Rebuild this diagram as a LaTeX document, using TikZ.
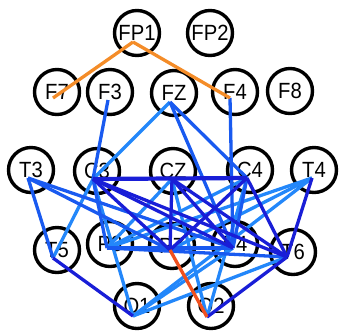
\documentclass[tikz,border=0pt]{standalone}
\usepackage{fontspec}
\setmainfont{Liberation Sans}
\definecolor{eorange}{RGB}{244,140,40}
\definecolor{ered}{RGB}{240,80,30}
\definecolor{edark}{RGB}{25,30,215}
\definecolor{emid}{RGB}{25,90,240}
\definecolor{elight}{RGB}{35,135,250}
\tikzset{
  elec/.style={circle,draw=black,line width=3.4pt,minimum size=45pt,inner sep=0pt,
    font=\fontsize{22}{22}\selectfont},
  edge/.style={line width=3.3pt},
  Ld/.style={edge,draw=edark},
  Lm/.style={edge,draw=emid},
  Ll/.style={edge,draw=elight},
  Lo/.style={edge,draw=eorange},
  Lr/.style={edge,draw=ered},
  thick edge/.style={line width=4.2pt}
}
% \el{name}{cx}{cy}{ex}{ey}{label}
\newcommand\el[6]{%
  \node[elec] (c#1) at (#2,#3) {\scalebox{0.92}[1]{#6}};
  \coordinate (#1) at (#4,#5);}
\begin{document}
\begin{tikzpicture}[x=1pt,y=-1pt]
\useasboundingbox[fill=white] (0,0) rectangle (339,333);
\el{FP1}{137}{33}{133}{42}{FP1}
\el{FP2}{210}{33}{206}{41}{FP2}
\el{F7}{57}{92}{53}{98}{F7}
\el{F3}{110}{92}{108}{100}{F3}
\el{FZ}{174}{93}{170}{102}{FZ}
\el{F4}{235}{92}{230}{98}{F4}
\el{F8}{290}{91}{286}{99}{F8}
\el{T3}{31}{170}{28}{178}{T3}
\el{C3}{97}{171}{93}{179}{C3}
\el{CZ}{173}{171}{172}{179}{CZ}
\el{C4}{250}{170}{247}{178}{C4}
\el{T4}{314}{170}{312}{178}{T4}
\el{T5}{57}{250}{53}{258}{T5}
\el{P3}{110}{244}{107}{248}{P3}
\el{PZ}{172}{246}{170}{250}{PZ}
\el{P4}{235}{244}{233}{248}{P4}
\el{T6}{293}{252}{287}{257}{T6}
\el{O1}{137}{306}{133}{316}{O1}
\el{O2}{211}{306}{207}{317}{O2}
% light edges
\draw[Ll] (FZ) -- (C3);
\draw[Ll] (C3) -- (T5);
\draw[Ll] (C3) -- (O1);
\draw[Ll] (CZ) -- (P3);
\draw[Ll] (C4) -- (P3);
\draw[Ll] (T4) -- (P3);
\draw[Ll] (T4) -- (PZ);
\draw[Ll] (O1) -- (P4);
\draw[Ll] (O1) -- (T6);
\draw[Ll] (O1) -- (T4);
\draw[Ll] (O2) -- (CZ);
\draw[Ll] (O2) -- (C4);
% mid edges
\draw[Lm] (F3) -- (C3);
\draw[Lm] (FZ) -- (C4);
\draw[Lm] (FZ) -- (P4);
\draw[Lm] (F4) -- (P4);
\draw[Lm] (T3) -- (T5);
\draw[Lm] (T3) -- (PZ);
\draw[Lm] (T3) -- (P4);
\draw[Lm] (C3) -- (P3);
\draw[Lm] (C4) -- (P4);
\draw[Lm] (P3) -- (T6);
\draw[Lm,thick edge] (P3) -- (P4);
% dark edges
\draw[Ld,thick edge] (C3) -- (C4);
\draw[Ld] (C3) -- (PZ);
\draw[Ld] (C3) -- (P4);
\draw[Ld] (C3) -- (T6);
\draw[Ld] (CZ) -- (PZ);
\draw[Ld] (CZ) -- (P4);
\draw[Ld] (CZ) -- (T6);
\draw[Ld] (C4) -- (PZ);
\draw[Ld] (C4) -- (T6);
\draw[Ld] (T4) -- (T6);
\draw[Ld] (T5) -- (O1);
\draw[Ld] (O2) -- (T6);
% orange / red
\draw[Lo] (FP1) -- (F7);
\draw[Lo] (FP1) -- (F4);
\draw[Lr] (PZ) -- (O2);
\end{tikzpicture}
\end{document}
